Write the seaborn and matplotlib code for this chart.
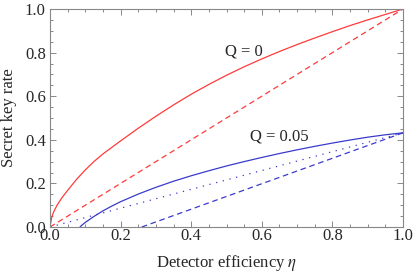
import matplotlib
matplotlib.use("Agg")
import matplotlib.pyplot as plt
import seaborn as sns
from matplotlib.ticker import MultipleLocator

# Data
eta_q0 = [0.0, 0.005, 0.01, 0.02, 0.035, 0.05, 0.075, 0.1, 0.125, 0.15, 0.2, 0.25,
          0.3, 0.35, 0.4, 0.45, 0.5, 0.55, 0.6, 0.65, 0.7, 0.75, 0.8, 0.85, 0.9, 0.95, 1.0]
rate_q0 = [0.0, 0.045, 0.068, 0.1, 0.137, 0.168, 0.218, 0.262, 0.301, 0.335, 0.395, 0.453,
           0.508, 0.56, 0.609, 0.654, 0.696, 0.735, 0.771, 0.805, 0.837, 0.867, 0.896, 0.924, 0.95, 0.975, 1.0]
eta_q0_lin = [0.0, 1.0]
rate_q0_lin = [0.0, 1.0]

eta_q05 = [0.085, 0.09, 0.1, 0.125, 0.15, 0.175, 0.2, 0.25, 0.3, 0.35, 0.4, 0.45,
           0.5, 0.55, 0.6, 0.65, 0.7, 0.75, 0.8, 0.85, 0.9, 0.95, 1.0]
rate_q05 = [0.0, 0.008, 0.021, 0.049, 0.074, 0.096, 0.116, 0.151, 0.182, 0.21, 0.235, 0.258,
            0.28, 0.3, 0.319, 0.337, 0.354, 0.37, 0.385, 0.399, 0.412, 0.423, 0.432]
eta_q05_dot = [0.0, 1.0]
rate_q05_dot = [0.0, 0.432]
eta_q05_dash = [0.26, 1.0]
rate_q05_dash = [0.0, 0.432]

x_ticks = [0.0, 0.2, 0.4, 0.6, 0.8, 1.0]
y_ticks = [0.0, 0.2, 0.4, 0.6, 0.8, 1.0]
labels = ["Q = 0", "Q = 0.05"]

sns.set_style("ticks")
plt.rcParams['font.family'] = ['Liberation Serif', 'DejaVu Serif']
plt.rcParams['mathtext.fontset'] = 'stix'

fig = plt.figure(figsize=(4.15, 2.73), dpi=100)
ax = fig.add_axes([50/415, 1-227/273, 353/415, 218/273])

red = '#ff3b3b'
blue = '#3a3acc'
lw = 0.9

sns.lineplot(x=eta_q0, y=rate_q0, ax=ax, color=red, lw=lw, estimator=None, sort=False)
sns.lineplot(x=eta_q0_lin, y=rate_q0_lin, ax=ax, color=red, lw=lw, estimator=None, sort=False)
ax.lines[-1].set_dashes([4.5, 3])
sns.lineplot(x=eta_q05, y=rate_q05, ax=ax, color=blue, lw=lw, estimator=None, sort=False)
sns.lineplot(x=eta_q05_dot, y=rate_q05_dot, ax=ax, color=blue, lw=lw, estimator=None, sort=False)
ax.lines[-1].set_dashes([1, 4.5])
sns.lineplot(x=eta_q05_dash, y=rate_q05_dash, ax=ax, color=blue, lw=lw, estimator=None, sort=False)
ax.lines[-1].set_dashes([4.5, 3])

ax.text(0.55, 0.807, labels[0], ha='center', va='center', fontsize=12)
ax.text(0.65, 0.417, labels[1], ha='center', va='center', fontsize=12)

ax.set_xlim(0, 1)
ax.set_ylim(0, 1)
ax.set_xticks(x_ticks)
ax.set_yticks(y_ticks)
ax.set_xticklabels([f"{t:.1f}" for t in x_ticks])
ax.set_yticklabels([f"{t:.1f}" for t in y_ticks])
ax.xaxis.set_minor_locator(MultipleLocator(0.05))
ax.yaxis.set_minor_locator(MultipleLocator(0.05))
gray = '#888888'
ax.tick_params(which='both', direction='in', top=True, right=True, color=gray, width=0.7, labelsize=12)
ax.tick_params(axis='x', which='major', pad=1)
ax.tick_params(axis='y', which='major', pad=3)
ax.tick_params(which='major', length=4.5)
ax.tick_params(which='minor', length=2.5)
for s in ax.spines.values():
    s.set_visible(True)
    s.set_color(gray)
    s.set_linewidth(0.8)

ax.set_xlabel(r"Detector efficiency $\eta$", fontsize=12, labelpad=6)
ax.set_ylabel("Secret key rate", fontsize=12, labelpad=6)

fig.savefig("out.png", dpi=100)
